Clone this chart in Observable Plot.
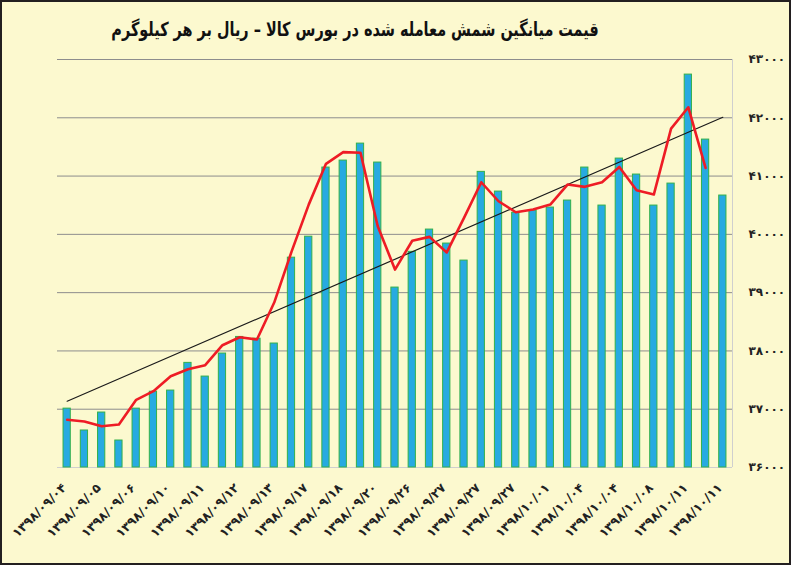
<!DOCTYPE html>
<html>
<head>
<meta charset="utf-8">
<script src="https://cdn.jsdelivr.net/npm/d3@7"></script>
<script src="https://cdn.jsdelivr.net/npm/@observablehq/plot@0.6"></script>
<style>
  html, body { margin: 0; padding: 0; background: #fcf9cf; }
  #wrap { position: relative; width: 791px; height: 565px; background: #fcf9cf; overflow: hidden; font-family: "DejaVu Sans", sans-serif; }
  #title { position: absolute; left: 355px; top: 16px; white-space: nowrap; direction: rtl; font-weight: bold; font-size: 19.5px; color: #111; line-height: 28px; transform: translateX(-50%) scaleX(0.74); transform-origin: center; }
  #chart { position: absolute; left: 0; top: 50px; }
  #border { position: absolute; inset: 0; border: 2px solid #231f20; box-sizing: border-box; pointer-events: none; }
</style>
</head>
<body>
<div id="wrap">
  <div id="title">قیمت میانگین شمش معامله شده در بورس کالا – ریال بر هر کیلوگرم</div>
  <div id="chart"></div>
  <div id="border"></div>
</div>
<script>
// Bar values (one per trading day, left to right)
const barValues = [37010, 36635, 36943, 36463, 37010, 37300, 37320, 37795, 37560, 37955,
  38240, 38210, 38127, 39600, 39960, 41146, 41266, 41557, 41232, 39087,
  39700, 40082, 39842, 39550, 41072, 40734, 40370, 40408, 40460, 40580,
  41146, 40494, 41300, 41026, 40494, 40871, 42741, 41626, 40666];
// Red line values (one per bar, first 38 bars)
const redValues = [36818, 36789, 36709, 36737, 37161, 37309, 37566, 37686, 37755, 38098,
  38235, 38195, 38830, 39700, 40510, 41210, 41410, 41400, 40140, 39396,
  39890, 39957, 39690, 40283, 40894, 40568, 40379, 40425, 40511, 40854,
  40815, 40894, 41157, 40757, 40683, 41815, 42180, 41140];
// Black trend line end points (at first and last bar)
const trendIndex = [0, 38];
const trendValues = [37137, 42009];
// X tick labels (every other bar)
const xLabelIndex = [0, 2, 4, 6, 8, 10, 12, 14, 16, 18, 20, 22, 24, 26, 28, 30, 32, 34, 36, 38];
const xLabels = ["۱۳۹۸/۰۹/۰۴", "۱۳۹۸/۰۹/۰۵", "۱۳۹۸/۰۹/۰۶", "۱۳۹۸/۰۹/۱۰", "۱۳۹۸/۰۹/۱۱",
  "۱۳۹۸/۰۹/۱۲", "۱۳۹۸/۰۹/۱۳", "۱۳۹۸/۰۹/۱۷", "۱۳۹۸/۰۹/۱۸", "۱۳۹۸/۰۹/۲۰",
  "۱۳۹۸/۰۹/۲۶", "۱۳۹۸/۰۹/۲۷", "۱۳۹۸/۰۹/۲۷", "۱۳۹۸/۰۹/۲۷", "۱۳۹۸/۱۰/۰۱",
  "۱۳۹۸/۱۰/۰۴", "۱۳۹۸/۱۰/۰۴", "۱۳۹۸/۱۰/۰۸", "۱۳۹۸/۱۰/۱۱", "۱۳۹۸/۱۰/۱۱"];
// Y ticks and labels
const yTicks = [36000, 37000, 38000, 39000, 40000, 41000, 42000, 43000];
const yTickLabels = ["۳۶۰۰۰", "۳۷۰۰۰", "۳۸۰۰۰", "۳۹۰۰۰", "۴۰۰۰۰", "۴۱۰۰۰", "۴۲۰۰۰", "۴۳۰۰۰"];

const bars = barValues.map((v, i) => ({i, v}));
const red = redValues.map((v, i) => ({i, v}));
const trend = trendIndex.map((i, k) => ({i, v: trendValues[k]}));
const xl = xLabelIndex.map((i, k) => ({i, t: xLabels[k]}));
const yl = yTicks.map((v, k) => ({v, t: yTickLabels[k]}));

const rightLine = (index, scales, values, dims) => {
  const x = dims.width - dims.marginRight + 0.5;
  return d3.create("svg:line")
    .attr("x1", x).attr("x2", x)
    .attr("y1", dims.marginTop).attr("y2", dims.height - dims.marginBottom)
    .attr("stroke", "#cfcfcf").attr("stroke-width", 1).node();
};

const chart = Plot.plot({
  width: 791,
  height: 515,
  marginLeft: 57,
  marginRight: 59,
  marginTop: 9,
  marginBottom: 98,
  style: {background: "transparent", fontFamily: "DejaVu Sans", overflow: "visible"},
  x: {type: "band", domain: d3.range(barValues.length), paddingInner: 0.58, paddingOuter: 0.35, round: false, axis: null},
  y: {domain: [36000, 43000], axis: null},
  marks: [
    Plot.ruleY(yTicks.slice(1), {stroke: "#8d8d8d", strokeWidth: 1}),
    Plot.ruleY([36000], {stroke: "#cfcfcf", strokeWidth: 1}),
    rightLine,
    Plot.barY(bars, {x: "i", y1: 36000, y2: "v", fill: "#27aae1", stroke: "#33b04a", strokeWidth: 1}),
    Plot.line(trend, {x: "i", y: "v", stroke: "#1a1a1a", strokeWidth: 1.2}),
    Plot.line(red, {x: "i", y: "v", stroke: "#ee1c25", strokeWidth: 2.6}),
    Plot.text(yl, {y: "v", text: "t", frameAnchor: "right", dx: 16, textAnchor: "start", fontSize: 12, fontWeight: "bold", fill: "#222"}),
    Plot.text(xl, {x: "i", text: "t", frameAnchor: "bottom", dy: 21, rotate: -45, textAnchor: "end", fontSize: 12.5, fontWeight: "bold", fill: "#222"})
  ]
});
document.getElementById("chart").appendChild(chart);
</script>
</body>
</html>
